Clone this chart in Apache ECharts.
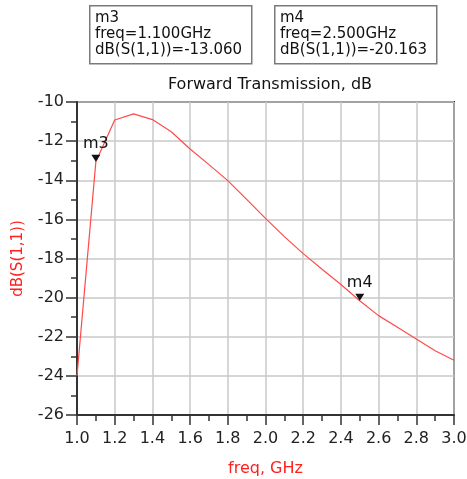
<!DOCTYPE html>
<html>
<head>
<meta charset="utf-8">
<script src="https://cdn.jsdelivr.net/npm/echarts@6/dist/echarts.min.js"></script>
<style>
html,body{margin:0;padding:0;background:#fff;}
#c{width:467px;height:479px;}
</style>
</head>
<body>
<div id="c"></div>
<script>
var freqs = [1.0,1.1,1.2,1.3,1.4,1.5,1.6,1.7,1.8,1.9,2.0,2.1,2.2,2.3,2.4,2.5,2.6,2.7,2.8,2.9,3.0];
var dbS11 = [-24.0,-13.06,-10.92,-10.61,-10.9,-11.52,-12.4,-13.2,-14.02,-14.98,-15.95,-16.88,-17.75,-18.55,-19.33,-20.163,-20.92,-21.52,-22.12,-22.72,-23.2];
var markerNames = ['m3','m4'];
var markerFreqs = [1.1, 2.5];
var markerValues = [-13.060, -20.163];
var titleText = 'Forward Transmission, dB';
var xName = 'freq, GHz';
var yName = 'dB(S(1,1))';

var FONT = 'DejaVu Sans';
var chart = echarts.init(document.getElementById('c'), null, {renderer:'canvas'});

var seriesData = freqs.map(function(f,i){ return [f, dbS11[i]]; });
var mpData = markerNames.map(function(n,i){
  return {name:n, coord:[markerFreqs[i], markerValues[i]]};
});

function boxText(i){
  return markerNames[i] + '\nfreq=' + markerFreqs[i].toFixed(3) + 'GHz\ndB(S(1,1))=' + markerValues[i].toFixed(3);
}
var boxX = [89, 274];
var graphics = [];
for (var i = 0; i < markerNames.length; i++) {
  graphics.push({
    type:'rect', left: boxX[i], top: 5, z: 10,
    shape:{width:162, height:58},
    style:{fill:'#fff', stroke:'#7a7a7a', lineWidth:1.5}
  });
  graphics.push({
    type:'text', left: boxX[i] + 6, top: 10, z: 11,
    style:{text: boxText(i), font: '15px "' + FONT + '"', fill:'#111', lineHeight:16}
  });
}

chart.setOption({
  animation:false,
  backgroundColor:'#fff',
  title:{
    text: titleText, left: 265, top: 72, textAlign:'center',
    textStyle:{fontFamily:FONT, fontSize:16, fontWeight:'normal', color:'#111'}
  },
  grid:{left:77, right:13, top:102, bottom:64, containLabel:false, outerBoundsMode:'none',
    show:true, borderColor:'#333', borderWidth:2, backgroundColor:'#fff'},
  xAxis:{
    type:'value', min:1.0, max:3.0, interval:0.2,
    name: xName, nameLocation:'middle', nameGap:46,
    nameTextStyle:{fontFamily:FONT, fontSize:16, color:'#ff2020'},
    axisLine:{show:true, onZero:false, lineStyle:{color:'#333', width:2}},
    axisTick:{show:true, length:10, lineStyle:{color:'#333', width:1.5}},
    minorTick:{show:true, splitNumber:2, length:6, lineStyle:{color:'#333', width:1.5}},
    axisLabel:{fontFamily:FONT, fontSize:16, color:'#222', margin:16,
      formatter:function(v){return v.toFixed(1);}},
    splitLine:{show:true, lineStyle:{color:'#c8c8c8', width:1.5}}
  },
  yAxis:{
    type:'value', min:-26, max:-10, interval:2,
    name: yName, nameLocation:'middle', nameGap:51,
    nameTextStyle:{fontFamily:FONT, fontSize:15, color:'#ff2020'},
    axisLine:{show:true, onZero:false, lineStyle:{color:'#333', width:2}},
    axisTick:{show:true, length:11, lineStyle:{color:'#333', width:1.5}},
    minorTick:{show:true, splitNumber:2, length:6, lineStyle:{color:'#333', width:1.5}},
    axisLabel:{fontFamily:FONT, fontSize:16, color:'#222', margin:13},
    splitLine:{show:true, lineStyle:{color:'#c8c8c8', width:1.5}}
  },
  series:[{
    type:'line', data: seriesData, showSymbol:false, symbol:'none',
    lineStyle:{color:'#ff4a4a', width:1.2},
    clip:false,
    markPoint:{
      symbol:'path://M0,0 L10,0 L5,8 Z',
      symbolSize:[9,7],
      symbolOffset:[0,'-50%'],
      itemStyle:{color:'#111'},
      label:{show:true, position:'top', distance:3, color:'#111', fontFamily:FONT, fontSize:16,
        formatter:function(p){return p.name;}},
      data: mpData
    }
  }],
  graphic: graphics
});
</script>
</body>
</html>
